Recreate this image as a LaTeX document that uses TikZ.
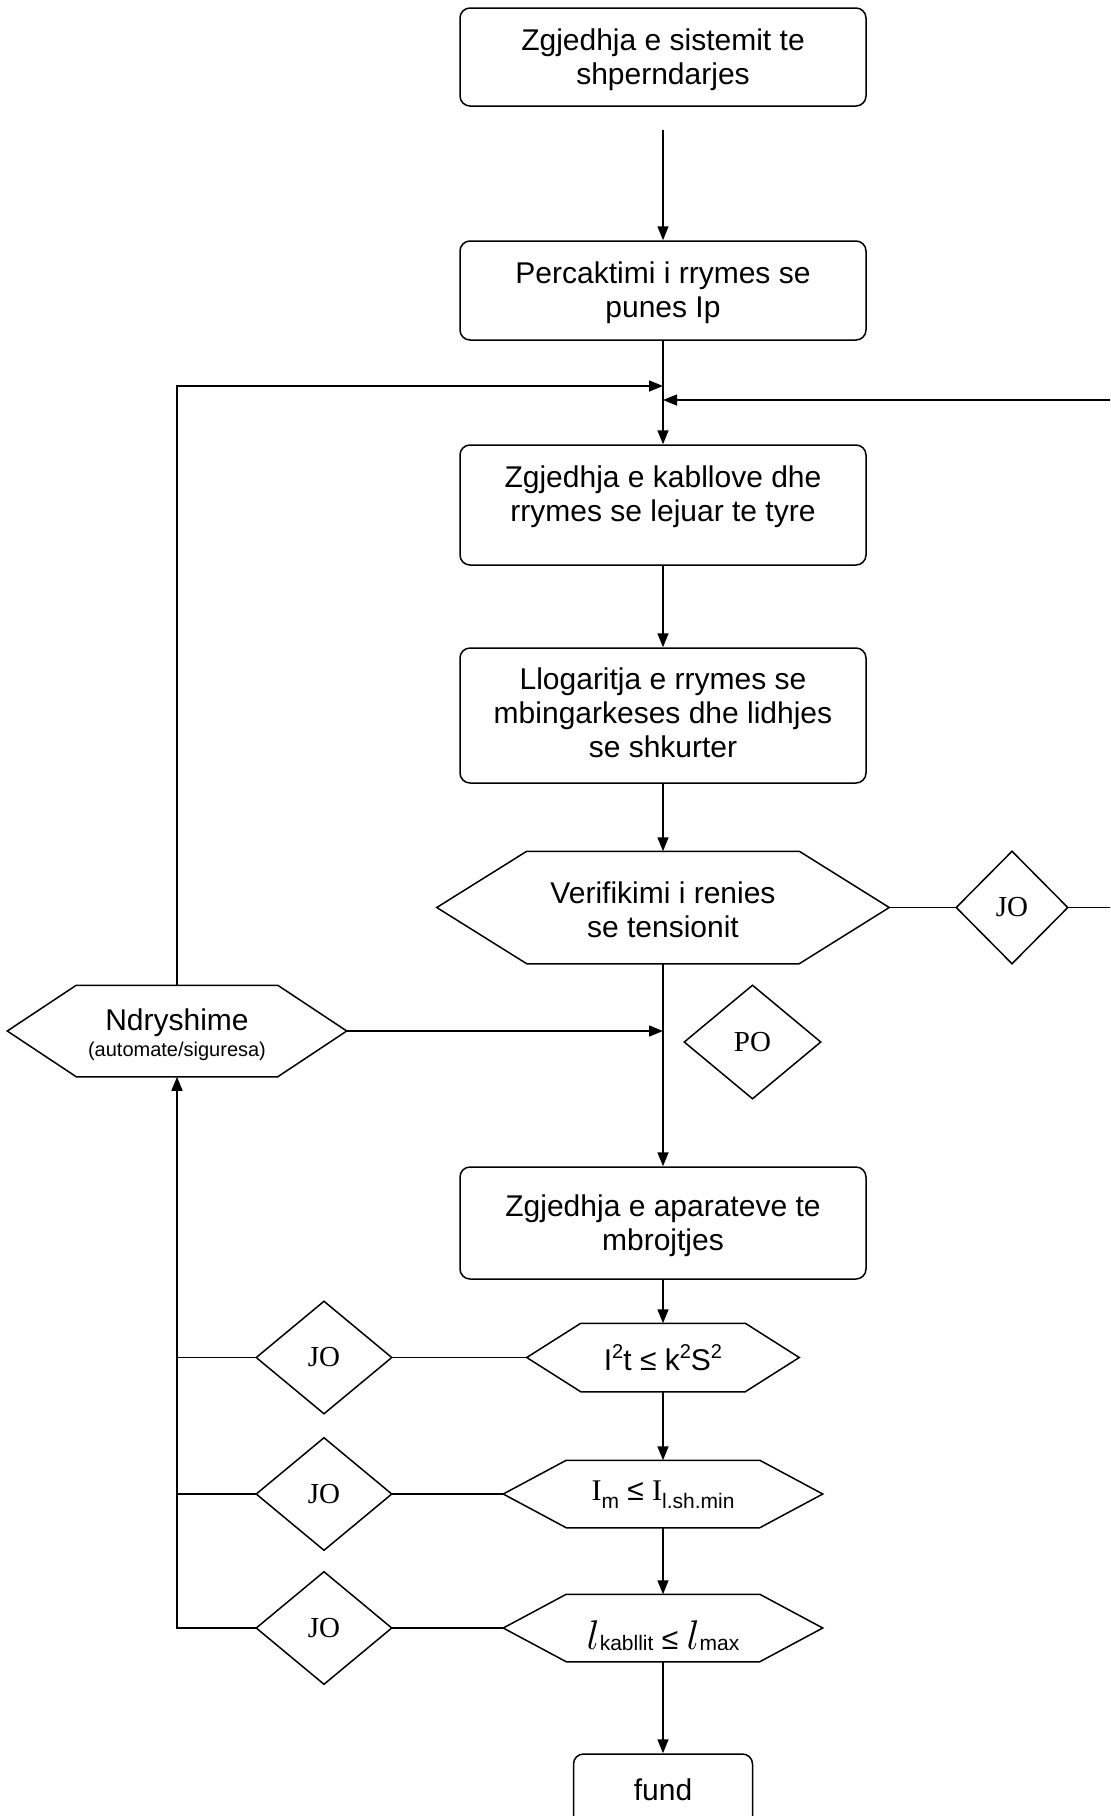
\documentclass[tikz,border=0pt]{standalone}
\usepackage{fontspec}
\setmainfont{Liberation Sans}
\newfontfamily\timesfont{Liberation Serif}
\usetikzlibrary{arrows.meta,calc}

% small raised / lowered indices
\newcommand\upsc[1]{\raisebox{0.72ex}{\fontsize{10}{10}\selectfont #1}}
\newcommand\dnsc[1]{\raisebox{-0.5ex}{\fontsize{10.5}{10}\selectfont #1}}
\newcommand\lowsc[1]{\raisebox{-0.1ex}{\fontsize{10.5}{10}\selectfont #1}}
\newcommand\ellsym{{\fontsize{21}{21}\selectfont$l$}}
% hexagon outline around a rectangular node: name, corner inset
\newcommand\hexoutline[2]{%
  \draw (#1.west) -- ($(#1.north west)+(#2,0)$) -- ($(#1.north east)+(-#2,0)$)
    -- (#1.east) -- ($(#1.south east)+(-#2,0)$) -- ($(#1.south west)+(#2,0)$) -- cycle;}
% diamond outline around a rectangular node
\newcommand\diaoutline[1]{%
  \draw (#1.north) -- (#1.east) -- (#1.south) -- (#1.west) -- cycle;}

\tikzset{
  txt/.style={font=\fontsize{15}{17}\selectfont, align=center, inner sep=0pt},
  box/.style={draw, rounded corners=5pt, minimum width=203pt, inner sep=0pt},
  hexbox/.style={inner sep=0pt},
  dia/.style={inner sep=0pt, minimum width=67pt, minimum height=55.5pt,
    font=\timesfont\fontsize{14.5}{16}\selectfont},
  flow/.style={-{Triangle[length=7pt,width=5.5pt]}},
}

\begin{document}
\begin{tikzpicture}[x=0.5pt,y=-0.5pt,line width=0.75pt]
\useasboundingbox (0,0) rectangle (1110,1816);
\clip (0,0) rectangle (1110,1816);

% process boxes
\node[box, minimum height=49pt] (b1) at (663,57) {};
\node[txt] (b1t) at ($(b1.center)+(0,2.3)$) {Zgjedhja e sistemit te\\shperndarjes};
\node[box, minimum height=49.5pt] (b2) at (663,290.5) {};
\node[txt] (b2t) at ($(b2.center)+(0,2.3)$) {Percaktimi i rrymes se\\punes Ip};
\node[box, minimum height=60pt] (b3) at (663,505) {};
\node[txt] (b3t) at ($(b3.center)+(0,-8)$) {Zgjedhja e kabllove dhe\\rrymes se lejuar te tyre};
\node[box, minimum height=67.5pt] (b4) at (663,715.5) {};
\node[txt] (b4t) at ($(b4.center)+(0,-2.3)$) {Llogaritja e rrymes se\\mbingarkeses dhe lidhjes\\se shkurter};
\node[box, minimum height=56pt] (b5) at (663,1223) {};
\node[txt] (b5t) at ($(b5.center)+(0,2.3)$) {Zgjedhja e aparateve te\\mbrojtjes};
\node[box, minimum width=89.5pt, minimum height=40pt] (fund) at (663,1794) {};
\node[txt] (fundt) at (663,1789.3) {fund};

% decision hexagons
\node[hexbox, minimum width=225.5pt, minimum height=55.5pt] (h1) at (663,907.5) {};
\hexoutline{h1}{90}
\node[txt] (h1t) at ($(h1.center)+(0,2.3)$) {Verifikimi i renies\\se tensionit};

\node[hexbox, minimum width=169pt, minimum height=45pt] (nd) at (177,1031) {};
\hexoutline{nd}{69}
\node[txt, anchor=base] (ndt) at (177,1030) {Ndryshime};
\node[txt, anchor=base, font=\fontsize{10}{12}\selectfont] (nds) at (177,1056) {(automate/siguresa)};

\node[hexbox, minimum width=135.5pt, minimum height=33.5pt] (h2) at (663,1357.5) {};
\hexoutline{h2}{54}
\node[txt, anchor=base] (h2t) at (663,1370) {I\upsc{2}t ≤ k\upsc{2}S\upsc{2}};

\node[hexbox, minimum width=159pt, minimum height=33pt] (h3) at (663,1494) {};
\hexoutline{h3}{63}
\node[txt] (h3t) at ($(h3.center)+(0,1)$) {{\timesfont I}\dnsc{m} ≤ {\timesfont I}\dnsc{l.sh.min}};

\node[hexbox, minimum width=159pt, minimum height=33pt] (h4) at (663,1628) {};
\hexoutline{h4}{63}
\node[txt, anchor=base] (h4t) at (663,1649) {\ellsym\lowsc{kabllit} ≤ \ellsym\lowsc{max}};

% answer diamonds
\node[dia, minimum width=55pt] (jo0) at (1012,907.5) {JO};
\diaoutline{jo0}
\node[dia, minimum width=67.5pt, minimum height=56pt] (po) at (752.5,1042) {PO};
\diaoutline{po}
\node[dia] (jo1) at (324,1357.5) {JO};
\diaoutline{jo1}
\node[dia] (jo2) at (324,1494) {JO};
\diaoutline{jo2}
\node[dia] (jo3) at (324,1628) {JO};
\diaoutline{jo3}

% junction points
\coordinate (s1) at (663,130);
\coordinate (mL) at (663,386);
\coordinate (mR) at (663,400);
\coordinate (mN) at (663,1031);
\coordinate (rTop) at (1116,400);
\coordinate (rBot) at (1116,907.5);

% main flow
\draw[flow] (s1) -- (b2.north);
\draw[flow] (b2.south) -- (b3.north);
\draw[flow] (b3.south) -- (b4.north);
\draw[flow] (b4.south) -- (h1.north);
\draw[flow] (h1.south) -- (b5.north);
\draw[flow] (b5.south) -- (h2.north);
\draw[flow] (h2.south) -- (h3.north);
\draw[flow] (h3.south) -- (h4.north);
\draw[flow] (h4.south) -- (fund.north);

% voltage-drop check: back to cable choice
\draw (h1.east) -- (jo0.west);
\draw[flow] (jo0.east) -- (rBot) -- (rTop) -- (mR);

% protection checks: back to changes
\draw (h2.west) -- (jo1.east);
\draw (jo1.west) -- (jo1.west -| nd.south);
\draw (h3.west) -- (jo2.east);
\draw (jo2.west) -- (jo2.west -| nd.south);
\draw (h4.west) -- (jo3.east);
\draw[flow] (jo3.west) -- (jo3.west -| nd.south) -- (nd.south);

% changes: loop back up, and into the main line
\draw[flow] (nd.north) -- (nd.north |- mL) -- (mL);
\draw[flow] (nd.east) -- (mN);
\end{tikzpicture}
\end{document}
